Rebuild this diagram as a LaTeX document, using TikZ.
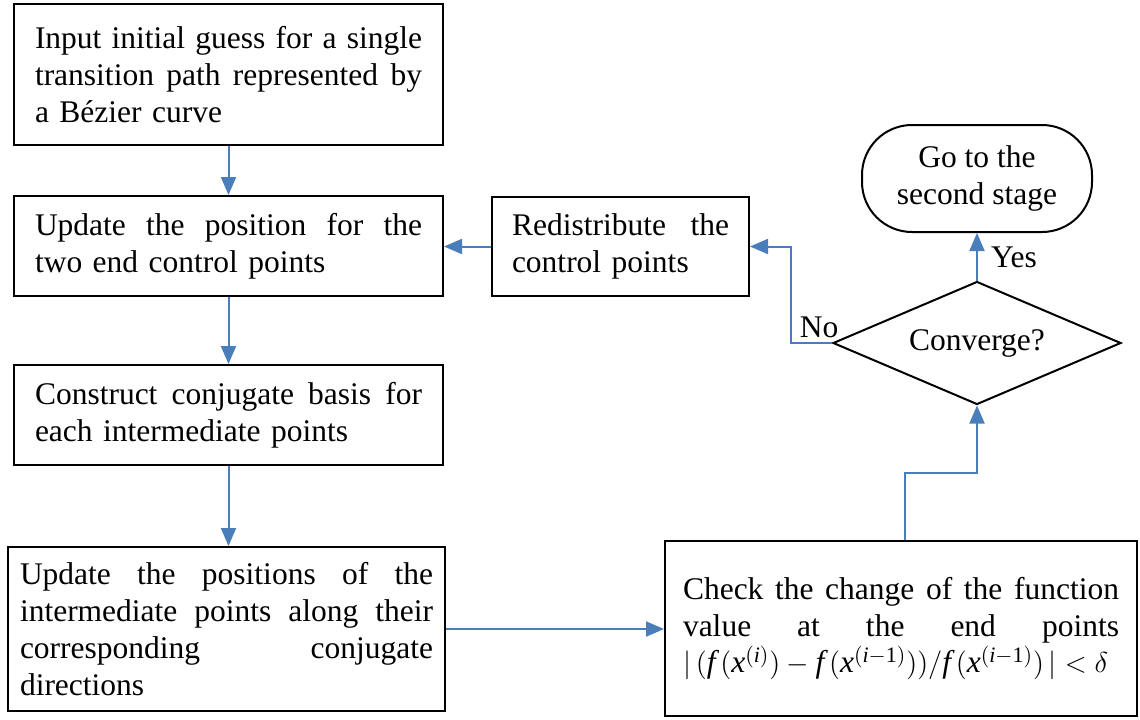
\documentclass[tikz,border=0pt]{standalone}
\usepackage{fontspec}
\setmainfont{Liberation Serif}
\usetikzlibrary{shapes.geometric,arrows.meta,calc}
\definecolor{flowblue}{RGB}{74,126,187}
\newcommand{\fulline}[2][193.5pt]{\leavevmode\hbox to #1{\spaceskip=0.25em plus 1fil\relax #2}}
\tikzset{
  every node/.style={font=\fontsize{15.75}{18.4}\selectfont},
  procbox/.style={draw,line width=1pt,inner sep=0pt,align=left},
  decision/.style={diamond,draw,line width=1pt,inner sep=0pt,aspect=2.3,minimum width=144pt,minimum height=61.5pt},
  terminal/.style={draw,line width=1pt,rounded corners=25pt,align=center,minimum width=115pt,minimum height=53.5pt},
  flowarrow/.style={draw=flowblue,line width=1pt,-{Triangle[length=9pt,width=7.5pt]}},
}
\begin{document}
\begin{tikzpicture}[x=0.5pt,y=-0.5pt]
\useasboundingbox (0,0) rectangle (1140,719);

% left column
\node[procbox,minimum width=214.5pt,minimum height=70.5pt,text width=193.5pt] (init) at (228.5,74.5)
  {\fulline{Input initial guess for a single}\\ \fulline{transition path represented by}\\ a B\'ezier curve};
\node[procbox,minimum width=214.5pt,minimum height=50pt,text width=193.5pt] (ends) at (228.5,246)
  {\fulline{Update the position for the}\\ two end control points};
\node[procbox,minimum width=214.5pt,minimum height=50pt,text width=193.5pt] (basis) at (228.5,415)
  {\fulline{Construct conjugate basis for}\\ each intermediate points};
\node[procbox,minimum width=218.5pt,minimum height=82pt,text width=206.5pt] (inter) at (226.5,629)
  {\fulline[206.5pt]{Update the positions of the}\\ \fulline[206.5pt]{intermediate points along their}\\
   \fulline[206.5pt]{corresponding conjugate}\\ directions};

% right part
\node[procbox,minimum width=236pt,minimum height=87.5pt,text width=218pt] (check) at (901,628.5)
  {\fulline[218pt]{Check the change of the function}\\ \fulline[218pt]{value at the end points}\\
   \makebox[218pt][l]{$|\,(\mathit{f}\,(\mathit{x}^{(\mathit{i})})-\mathit{f}\,(\mathit{x}^{(\mathit{i}-\mathrm{1})}))\big/ \mathit{f}\,(\mathit{x}^{(\mathit{i}-\mathrm{1})})\,|<\delta$}};
\node[decision] (conv) at (977,343) {Converge?};
\node[procbox,minimum width=128.5pt,minimum height=49.5pt,text width=108.5pt] (redist) at (620.5,246.5)
  {\fulline[108.5pt]{Redistribute the}\\ control points};
\node[terminal] (stage) at (977,178.5) {Go to the\\second stage};

\node (no) at (819,327) {No};
\node (yes) at (1014,257) {Yes};

% connectors
\draw[flowarrow] (init.south) -- (ends.north);
\draw[flowarrow] (ends.south) -- (basis.north);
\draw[flowarrow] (basis.south) -- (basis.south |- inter.north);
\draw[flowarrow] (inter.east) -- (inter.east -| check.west);
\draw[flowarrow] ([xshift=2pt]check.north) -- ++(0,-67) -| (conv.south);
\draw[flowarrow] (conv.west) -- ++(-41,0) |- (redist.east);
\draw[flowarrow] (redist.west) -- (redist.west -| ends.east);
\draw[flowarrow] (conv.north) -- (stage.south);

\end{tikzpicture}
\end{document}
